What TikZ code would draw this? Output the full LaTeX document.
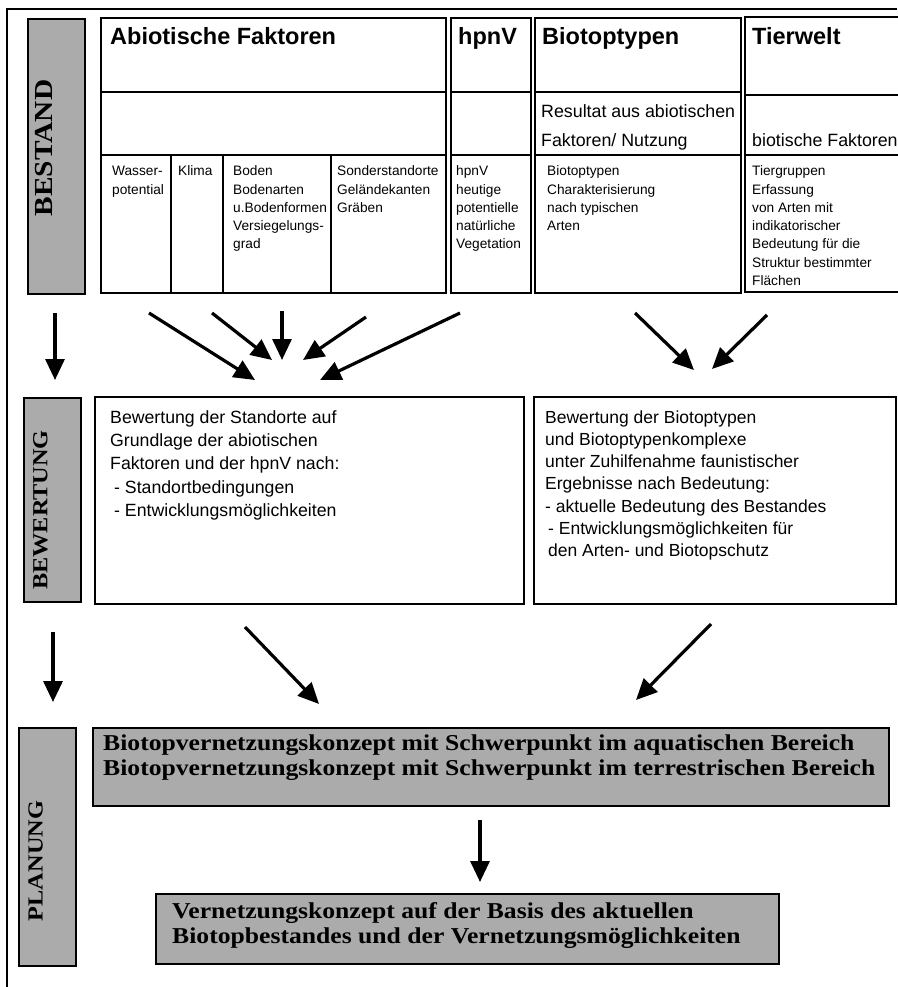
\documentclass[tikz,border=0pt]{standalone}
\usepackage{fontspec}
\setmainfont{Liberation Sans}
\newfontfamily\labelfont[FakeStretch=1.13]{Liberation Serif}
\usetikzlibrary{arrows.meta}

% multi-line text block whose baseline is the first line
\newcommand\rows[1]{\begin{tabular}[t]{@{}l@{}}#1\end{tabular}}

\tikzset{
  box/.style={draw, line width=1.8pt, anchor=north west, inner sep=0pt},
  shade/.style={box, fill=black!33},
  sidelabel/.style={rotate=90, inner sep=0pt, font=\labelfont\bfseries\fontsize{21.5}{21.5}\selectfont},
  txt/.style={anchor=base west, inner sep=0pt},
  head/.style={txt, font=\bfseries\fontsize{23.5}{26}\selectfont},
  small/.style={txt, font=\fontsize{13.7}{18.2}\selectfont},
  mid/.style={txt, font=\fontsize{17.8}{29}\selectfont},
  plan/.style={txt, font=\labelfont\bfseries\fontsize{22.7}{25}\selectfont},
  arr/.style={line width=3.2pt, -{Triangle[length=21pt,width=19pt]}},
  rule/.style={line width=1.6pt}
}

\begin{document}
\begin{tikzpicture}[x=1pt, y=-1pt]
\useasboundingbox (0,0) rectangle (897,987);

% outer frame: top and left edges
\coordinate (frameTL) at (7,9);
\coordinate (frameTR) at (897,9);
\coordinate (frameBL) at (7,987);
\draw[line width=1.8pt] (frameTR) -- (frameTL) -- (frameBL);

% ---------------- BESTAND ----------------
\node[shade, minimum width=57pt, minimum height=275pt] (bestandBox) at (27,18) {};
\node[sidelabel, font=\labelfont\bfseries\fontsize{26}{26}\selectfont] (bestandTxt) at (44,148) {BESTAND};

\node[box, minimum width=345pt, minimum height=275pt] (abio) at (100,17) {};
\node[box, minimum width=80pt, minimum height=275pt] (hpnv) at (450,17) {};
\node[box, minimum width=206pt, minimum height=275pt] (bio) at (534,17) {};
% Tierwelt column runs past the right edge
\coordinate (tierTR) at (900,17);
\coordinate (tierTL) at (745,17);
\coordinate (tierBL) at (745,292);
\coordinate (tierBR) at (900,292);
\draw[line width=1.8pt] (tierTR) -- (tierTL) -- (tierBL) -- (tierBR);

% horizontal rules inside the columns
\draw[rule] (abio.west |- 0,92) -- (abio.east |- 0,92);
\draw[rule] (abio.west |- 0,155) -- (abio.east |- 0,155);
\draw[rule] (hpnv.west |- 0,92) -- (hpnv.east |- 0,92);
\draw[rule] (hpnv.west |- 0,155) -- (hpnv.east |- 0,155);
\draw[rule] (bio.west |- 0,92) -- (bio.east |- 0,92);
\draw[rule] (bio.west |- 0,155) -- (bio.east |- 0,155);
\draw[rule] (tierTL |- 0,95) -- (tierTR |- 0,95);
\draw[rule] (tierTL |- 0,155) -- (tierTR |- 0,155);
% column dividers under Abiotische Faktoren
\draw[rule] (171,155) -- (abio.south -| 171,0);
\draw[rule] (223,155) -- (abio.south -| 223,0);
\draw[rule] (331,155) -- (abio.south -| 331,0);

\node[head] (hAbio) at (110,45) {Abiotische Faktoren};
\node[head] (hHpnv) at (458,45) {hpnV};
\node[head] (hBio) at (542,45) {Biotoptypen};
\node[head] (hTier) at (752,45) {Tierwelt};

\node[mid] (mBio) at (541,118) {\rows{Resultat aus abiotischen\\Faktoren/ Nutzung}};
\node[mid] (mTier) at (752,147) {biotische Faktoren};

\node[small] (cWasser) at (112,176) {\rows{Wasser-\\potential}};
\node[small] (cKlima) at (178,176) {Klima};
\node[small] (cBoden) at (233,176) {\rows{Boden\\Bodenarten\\u.Bodenformen\\Versiegelungs-\\grad}};
\node[small] (cSonder) at (337,176) {\rows{Sonderstandorte\\Geländekanten\\Gräben}};
\node[small] (cHpnv) at (456,176) {\rows{hpnV\\heutige\\potentielle\\natürliche\\Vegetation}};
\node[small] (cBio) at (547,176) {\rows{Biotoptypen\\Charakterisierung\\nach typischen\\Arten}};
\node[small] (cTier) at (752,176) {\rows{Tiergruppen\\Erfassung\\von Arten mit\\indikatorischer\\Bedeutung für die\\Struktur bestimmter\\Flächen}};

% ---------------- BEWERTUNG ----------------
\node[shade, minimum width=57pt, minimum height=204pt] (bewBox) at (23,397) {};
\node[sidelabel] (bewTxt) at (40.5,510) {BEWERTUNG};

\node[box, minimum width=429pt, minimum height=207pt] (bewL) at (94,396) {};
\node[box, minimum width=362pt, minimum height=207pt] (bewR) at (533,396) {};

\node[txt, font=\fontsize{17.7}{23.4}\selectfont] (bewLTxt) at (110,423)
  {\rows{Bewertung der Standorte auf\\Grundlage der abiotischen\\Faktoren und der hpnV nach:\\\hspace*{4pt}- Standortbedingungen\\\hspace*{4pt}- Entwicklungsmöglichkeiten}};
\node[txt, font=\fontsize{17.5}{22.3}\selectfont] (bewRTxt) at (545,423)
  {\rows{Bewertung der Biotoptypen\\und Biotoptypenkomplexe\\unter Zuhilfenahme faunistischer\\Ergebnisse nach Bedeutung:\\- aktuelle Bedeutung des Bestandes\\\hspace*{3pt}- Entwicklungsmöglichkeiten für\\\hspace*{3pt}den Arten- und Biotopschutz}};

% ---------------- PLANUNG ----------------
\node[shade, minimum width=57pt, minimum height=238pt] (planBox) at (18,727) {};
\node[sidelabel] (planTxt) at (35.5,861) {PLANUNG};

\node[shade, minimum width=796pt, minimum height=78pt] (plan1) at (92,727) {};
\node[plan] (plan1Txt) at (103,750)
  {\rows{Biotopvernetzungskonzept mit Schwerpunkt im aquatischen Bereich\\Biotopvernetzungskonzept mit Schwerpunkt im terrestrischen Bereich}};

\node[shade, minimum width=623pt, minimum height=70pt] (plan2) at (155,893) {};
\node[plan] (plan2Txt) at (172,918)
  {\rows{Vernetzungskonzept auf der Basis des aktuellen\\Biotopbestandes und der Vernetzungsmöglichkeiten}};

% ---------------- arrows ----------------
\coordinate (s1a) at (55,313);  \coordinate (s1b) at (55,380);
\coordinate (s2a) at (53,632);  \coordinate (s2b) at (53,702);
\coordinate (a1a) at (149,313); \coordinate (a1b) at (255,380);
\coordinate (a2a) at (212,313); \coordinate (a2b) at (272,360);
\coordinate (a3a) at (282,311); \coordinate (a3b) at (282,360);
\coordinate (a4a) at (366,317); \coordinate (a4b) at (303,360);
\coordinate (a5a) at (460,313); \coordinate (a5b) at (320,380);
\coordinate (b1a) at (635,313); \coordinate (b1b) at (694,370);
\coordinate (b2a) at (767,315); \coordinate (b2b) at (712,369);
\coordinate (c1a) at (245,627); \coordinate (c1b) at (319,704);
\coordinate (c2a) at (711,624); \coordinate (c2b) at (636,700);
\coordinate (da) at (480,820);  \coordinate (db) at (480,882);

\foreach \p in {s1,s2,a1,a2,a3,a4,a5,b1,b2,c1,c2,d}
  \draw[arr] (\p a) -- (\p b);

\end{tikzpicture}
\end{document}
